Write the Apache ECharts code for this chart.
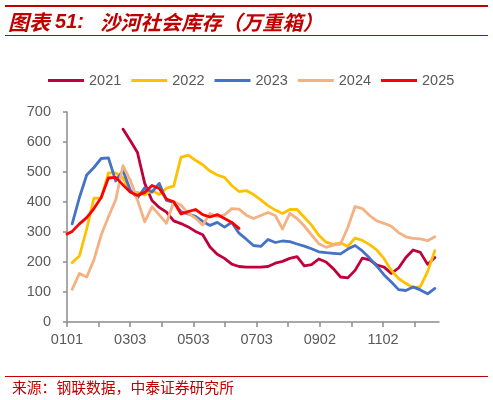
<!DOCTYPE html>
<html>
<head>
<meta charset="utf-8">
<script src="https://cdn.jsdelivr.net/npm/echarts@6/dist/echarts.min.js"></script>
<style>
html,body{margin:0;padding:0;background:#ffffff;}
#c{width:493px;height:400px;}
</style>
</head>
<body>
<div id="c"></div>
<script>
// weekly observation dates (MMDD)
const weeks = ['0101','0106','0113','0120','0127','0203','0210','0217','0224','0303','0310','0317','0324','0331','0407','0414','0421','0428','0505','0512','0519','0526','0602','0609','0616','0623','0630','0707','0714','0721','0728','0804','0811','0818','0825','0901','0908','0915','0922','0929','1006','1013','1020','1027','1103','1110','1117','1124','1201','1208','1215','1222'];

// x-axis tick labels
const tickLabels = ['0101','0303','0503','0703','0902','1102'];

// series values (万重箱), aligned with weeks
const v2021 = [null,null,null,null,null,null,null,null,643,605,565,462,405,382,366,337,328,317,302,291,250,226,212,193,185,183,183,183,185,196,202,212,218,187,191,210,200,178,150,147,172,213,207,190,183,162,180,215,240,232,192,215];
const v2022 = [null,198,220,310,413,413,497,497,480,433,432,424,439,425,446,453,549,556,539,524,503,490,482,455,435,438,425,407,388,373,362,375,375,349,323,289,266,259,264,252,280,272,258,240,211,172,145,129,114,118,168,238];
const v2023 = [null,327,415,490,515,545,547,470,505,440,414,447,433,462,405,399,368,360,352,335,322,332,316,332,296,276,255,252,275,265,270,268,260,253,244,234,231,229,227,243,255,237,213,186,157,133,108,105,117,107,94,112];
const v2024 = [null,109,162,150,207,290,351,407,521,473,407,334,384,357,329,401,390,362,346,323,362,351,357,378,376,356,345,355,365,355,310,362,345,320,290,261,249,256,260,315,385,378,355,337,329,319,298,284,279,277,271,284];
const v2025 = [293,302,327,348,378,415,480,482,457,433,422,432,455,445,410,401,360,368,375,358,350,358,345,332,312];

const seriesNames = ['2021','2022','2023','2024','2025'];
const seriesValues = [v2021, v2022, v2023, v2024, v2025];
const seriesColors = ['#C0003C','#FFC000','#4472C4','#F4B183','#FF0000'];

const monthStart = [0,31,59,90,120,151,181,212,243,273,304,334];
function dayOf(mmdd){ return monthStart[parseInt(mmdd.slice(0,2),10)-1] + parseInt(mmdd.slice(2),10) - 1; }

const labelDays = tickLabels.map(dayOf);
const tickDays = [0,30.5,61,91.5,122,152.5,183,213.5,244,274.5,305,335.5];

const series = seriesNames.map((name, si) => {
  const vals = seriesValues[si];
  const data = [];
  vals.forEach((v, i) => { if (v !== null && v !== undefined) data.push([dayOf(weeks[i]), v]); });
  return {
    name: name, type: 'line', data: data, showSymbol: false, symbol: 'none',
    lineStyle: {width: 2.8, color: seriesColors[si], cap: 'round', join: 'round'},
    itemStyle: {color: seriesColors[si]},
    emphasis: {disabled: true}, animation: false
  };
});

const cjk = '"Noto Sans CJK SC", sans-serif';
const chart = echarts.init(document.getElementById('c'), null, {renderer: 'canvas'});
chart.setOption({
  animation: false,
  backgroundColor: '#ffffff',
  textStyle: {fontFamily: '"Liberation Sans", Arial, sans-serif'},
  grid: {left: 67, right: 54, top: 112, bottom: 78, containLabel: false},
  legend: {
    data: seriesNames, left: 43, top: 68, icon: 'rect', itemWidth: 36, itemHeight: 3, itemGap: 10,
    textStyle: {color: '#595959', fontSize: 14.5, fontFamily: '"Liberation Sans", Arial, sans-serif'}
  },
  xAxis: {
    type: 'value', min: 0, max: 359, interval: 30.5,
    axisLine: {show: true, lineStyle: {color: '#8c8c8c', width: 1.5}},
    axisTick: {show: true, length: 5, customValues: tickDays, lineStyle: {color: '#8c8c8c', width: 1.5}},
    axisLabel: {
      customValues: labelDays, margin: 10, color: '#595959', fontSize: 14.5,
      formatter: function (val) {
        const idx = labelDays.indexOf(Math.round(val));
        return idx >= 0 ? tickLabels[idx] : '';
      }
    },
    splitLine: {show: false}
  },
  yAxis: {
    type: 'value', min: 0, max: 700, interval: 100,
    axisLine: {show: true, lineStyle: {color: '#8c8c8c', width: 1.5}},
    axisTick: {show: true, length: 4, lineStyle: {color: '#8c8c8c', width: 1.5}},
    axisLabel: {margin: 16, color: '#595959', fontSize: 14.5},
    splitLine: {show: false}
  },
  graphic: [
    {type: 'rect', shape: {x: 5, y: 5, width: 483, height: 2}, style: {fill: '#C00000'}, silent: true},
    {type: 'text', x: 8, y: 22, style: {text: '图表', fill: '#C00000',
      fontSize: 21, fontStyle: 'italic', fontWeight: 'bold', fontFamily: cjk,
      verticalAlign: 'middle', align: 'left'}, silent: true},
    {type: 'text', x: 55, y: 22, style: {text: '51:', fill: '#C00000',
      fontSize: 20, fontStyle: 'italic', fontWeight: 'bold', fontFamily: '"Liberation Sans", Arial, sans-serif',
      verticalAlign: 'middle', align: 'left'}, silent: true},
    {type: 'text', x: 100, y: 22, style: {text: '沙河社会库存（万重箱）', fill: '#C00000',
      fontSize: 20.3, fontStyle: 'italic', fontWeight: 'bold', fontFamily: cjk,
      verticalAlign: 'middle', align: 'left'}, silent: true},
    {type: 'rect', shape: {x: 5, y: 35, width: 483, height: 1}, style: {fill: '#C00000'}, silent: true},
    {type: 'rect', shape: {x: 5, y: 376, width: 483, height: 1}, style: {fill: '#C00000'}, silent: true},
    {type: 'text', x: 12, y: 387, style: {text: '来源：钢联数据，中泰证券研究所', fill: '#C00000',
      fontSize: 14.8, fontFamily: cjk, verticalAlign: 'middle', align: 'left'}, silent: true}
  ],
  series: series
});
</script>
</body>
</html>
